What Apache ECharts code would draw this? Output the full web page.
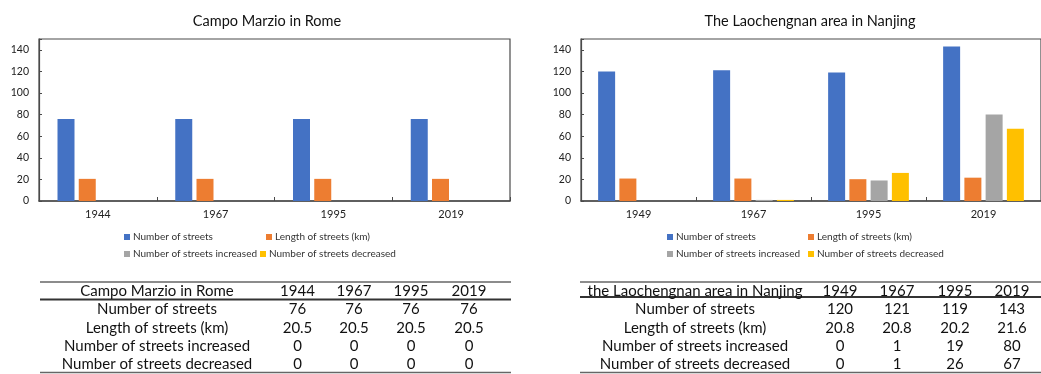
<!DOCTYPE html>
<html>
<head>
<meta charset="utf-8">
<script src="https://cdn.jsdelivr.net/npm/echarts@6/dist/echarts.min.js"></script>
<style>
html,body{margin:0;padding:0;background:#fff;}
#chart{width:1041px;height:374px;}
</style>
</head>
<body>
<div id="chart"></div>
<script>
// ---- data ----
const romeTitle = 'Campo Marzio in Rome';
const nanjingTitle = 'The Laochengnan area in Nanjing';
const romeTableTitle = 'Campo Marzio in Rome';
const nanjingTableTitle = 'the Laochengnan area in Nanjing';
const seriesNames = ['Number of streets', 'Length of streets (km)', 'Number of streets increased', 'Number of streets decreased'];
const romeYears = ['1944', '1967', '1995', '2019'];
const nanjingYears = ['1949', '1967', '1995', '2019'];
const romeStreets = [76, 76, 76, 76];
const romeLength = [20.5, 20.5, 20.5, 20.5];
const romeIncreased = [0, 0, 0, 0];
const romeDecreased = [0, 0, 0, 0];
const nanjingStreets = [120, 121, 119, 143];
const nanjingLength = [20.8, 20.8, 20.2, 21.6];
const nanjingIncreased = [0, 1, 19, 80];
const nanjingDecreased = [0, 1, 26, 67];
const yTicks = [0, 20, 40, 60, 80, 100, 120, 140];

// ---- style / layout ----
const colors = ['#4472C4', '#ED7D31', '#A5A5A5', '#FFC000'];
const FONT = 'Lato, "Noto Sans", sans-serif';
const axisColor = '#4a4a4a';

const chart = echarts.init(document.getElementById('chart'));

function makeAxes(gridIndex, cats) {
  return {
    x: {
      type: 'category', gridIndex, data: cats,
      axisLine: {show: true, lineStyle: {color: axisColor, width: 1.5}},
      axisTick: {show: true, inside: true, length: 4, lineStyle: {color: axisColor}},
      axisLabel: {fontFamily: FONT, fontSize: 11, color: '#222', margin: 8}
    },
    y: {
      type: 'value', gridIndex, min: 0, max: 150, interval: 20,
      axisLine: {show: true, lineStyle: {color: axisColor, width: 1.2}},
      axisTick: {show: true, inside: true, length: 3, lineStyle: {color: axisColor}},
      splitLine: {show: false},
      axisLabel: {fontFamily: FONT, fontSize: 10.5, color: '#222', margin: 10,
        formatter: v => yTicks.indexOf(v) >= 0 ? String(v) : ''}
    }
  };
}
const a0 = makeAxes(0, romeYears), a1 = makeAxes(1, nanjingYears);

const romeData = [romeStreets, romeLength, romeIncreased, romeDecreased];
const nanjingData = [nanjingStreets, nanjingLength, nanjingIncreased, nanjingDecreased];
const series = [];
[romeData, nanjingData].forEach((set, gi) => {
  set.forEach((vals, i) => {
    series.push({
      type: 'bar', name: seriesNames[i], xAxisIndex: gi, yAxisIndex: gi,
      data: vals, barWidth: 17, barGap: '25%',
      itemStyle: {color: colors[i]}, animation: false
    });
  });
});

// legends: one component per item
const legendPos = [
  [[124, 237], [266, 237], [124, 254], [260, 254]],
  [[667, 237], [808, 237], [667, 254], [808, 254]]
];
const legends = [];
legendPos.forEach(pos => {
  pos.forEach((p, i) => {
    legends.push({
      data: [seriesNames[i]], left: p[0], top: p[1] - 6, padding: 0,
      icon: 'rect', itemWidth: 6, itemHeight: 6, itemGap: 0,
      selectedMode: false,
      textStyle: {fontFamily: FONT, fontSize: 10, color: '#333', padding: [0, 0, 0, -2], lineHeight: 12}
    });
  });
});

// tables
const graphics = [];
function tableText(x, y, text, opts) {
  graphics.push({type: 'text', x, y, silent: true,
    style: Object.assign({text, fontFamily: FONT, fontSize: 15, fill: '#111', align: 'center', verticalAlign: 'middle'}, opts || {})});
}
function rule(x1, x2, y, w, c) {
  graphics.push({type: 'line', silent: true, shape: {x1, y1: y, x2, y2: y}, style: {stroke: c || '#555', lineWidth: w}});
}
const rowLabels = seriesNames;
const rowY = [291, 309.5, 328, 346.5, 364.5];
function buildTable(title, years, data, x0, x1, labelX, colX, headRuleY) {
  rule(x0, x1, 282, 1.5, '#666');
  rule(x0, x1, headRuleY, 1.8, '#333');
  rule(x0, x1, 372.5, 1.5, '#666');
  tableText(labelX, rowY[0], title);
  years.forEach((yr, j) => tableText(colX[j], rowY[0], yr));
  rowLabels.forEach((lab, i) => {
    tableText(labelX, rowY[i + 1], lab);
    data[i].forEach((v, j) => tableText(colX[j], rowY[i + 1], i === 1 ? v.toFixed(1) : String(v)));
  });
}
buildTable(romeTableTitle, romeYears, romeData, 40, 511, 157, [297.5, 354, 411, 469], 299.5);
buildTable(nanjingTableTitle, nanjingYears, nanjingData, 580, 1041, 695, [840, 897, 955, 1012], 297);

chart.setOption({
  animation: false,
  title: [
    {text: romeTitle, left: 262, top: 9, textAlign: 'center',
      textStyle: {fontFamily: FONT, fontSize: 14.5, fontWeight: 'normal', color: '#111'}},
    {text: nanjingTitle, left: 805, top: 9, textAlign: 'center',
      textStyle: {fontFamily: FONT, fontSize: 14.5, fontWeight: 'normal', color: '#111'}}
  ],
  grid: [
    {left: 39, top: 39, width: 471, height: 162, show: true, borderColor: axisColor, borderWidth: 1.2, containLabel: false},
    {left: 581, top: 39, width: 472, height: 162, show: true, borderColor: axisColor, borderWidth: 1.2, containLabel: false}
  ],
  xAxis: [a0.x, a1.x],
  yAxis: [a0.y, a1.y],
  legend: legends,
  series,
  graphic: graphics
});
</script>
</body>
</html>
